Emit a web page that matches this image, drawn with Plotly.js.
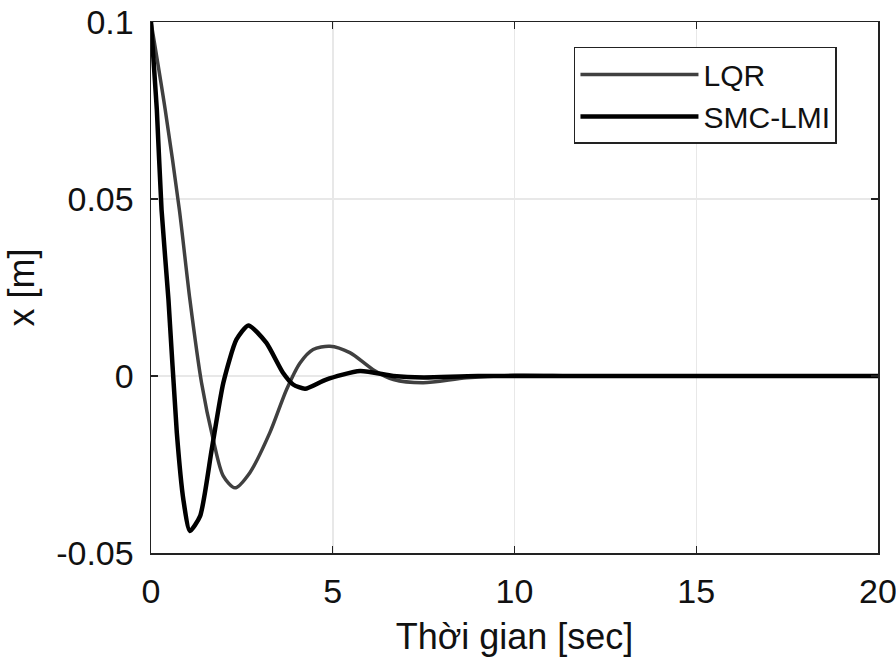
<!DOCTYPE html>
<html>
<head>
<meta charset="utf-8">
<script src="https://cdn.plot.ly/plotly-3.0.1.min.js"></script>
<style>html,body{margin:0;padding:0;background:#fff}#chart{width:896px;height:662px}</style>
</head>
<body>
<div id="chart"></div>
<script>
// LQR response
const lqrTime = [0, 0.39, 0.78, 1.07, 1.39, 1.71, 1.99, 2.31, 2.72, 3.27, 3.73, 4.1, 4.46, 4.92, 5.47, 6.11, 6.67, 7.49, 8.68, 10, 11.5, 13, 20];
const lqrX = [0.1, 0.0753, 0.047, 0.0216, -0.0019, -0.0179, -0.0283, -0.0316, -0.0273, -0.016, -0.0038, 0.0037, 0.0075, 0.0084, 0.0066, 0.0018, -0.001, -0.0019, -0.0005, 0.0002, 0.0001, 0, 0];
// SMC-LMI response
const smcTime = [0, 0.16, 0.29, 0.48, 0.71, 0.89, 1.07, 1.35, 1.67, 1.99, 2.35, 2.68, 3.17, 3.63, 3.91, 4.24, 4.82, 5.75, 6.67, 7.5, 9, 20];
const smcX = [0.1, 0.0753, 0.047, 0.0216, -0.016, -0.0349, -0.0438, -0.0396, -0.0208, -0.0019, 0.0103, 0.0143, 0.0094, 0.0009, -0.0024, -0.0036, -0.001, 0.0014, 0, -0.0004, 0, 0];
const seriesNames = ["LQR", "SMC-LMI"];
const xTicks = [0, 5, 10, 15, 20];
const yTicks = [-0.05, 0, 0.05, 0.1];
const yTickLabels = ["-0.05", "0", "0.05", "0.1"];

const font = "Liberation Sans, Arial, Helvetica, sans-serif";
const traces = [
  {x: lqrTime, y: lqrX, name: seriesNames[0], mode: "lines",
   line: {color: "#404040", width: 3.5, shape: "spline", smoothing: 0.8}},
  {x: smcTime, y: smcX, name: seriesNames[1], mode: "lines",
   line: {color: "#000000", width: 4.5, shape: "spline", smoothing: 0.6}}
];
const axisCommon = {
  showline: true, linecolor: "#222", linewidth: 1.5, mirror: "ticks",
  ticks: "inside", ticklen: 7, tickwidth: 1.2, tickcolor: "#222",
  showgrid: true, gridcolor: "#e8e8e8", gridwidth: 1.5, zeroline: false,
  ticklabeloverflow: "allow",
  tickfont: {family: font, size: 34, color: "#111"}
};
const layout = {
  width: 896, height: 662,
  margin: {l: 151, r: 18, t: 22, b: 109},
  paper_bgcolor: "#fff", plot_bgcolor: "#fff",
  showlegend: true,
  legend: {x: 0.5818, y: 0.953, xanchor: "left", yanchor: "top",
    bgcolor: "#fff", bordercolor: "#222", borderwidth: 1.5,
    font: {family: font, size: 30, color: "#111"}, itemwidth: 118, tracegroupgap: 4},
  xaxis: Object.assign({}, axisCommon, {range: [0, 20], tickvals: xTicks, ticklabelstandoff: 8,
    title: {text: "Thời gian [sec]", font: {family: font, size: 36, color: "#111"}, standoff: 14}}),
  yaxis: Object.assign({}, axisCommon, {range: [-0.05, 0.1], tickvals: yTicks, ticktext: yTickLabels,
    ticklabelstandoff: 9,
    title: {text: "x [m]", font: {family: font, size: 36, color: "#111"}, standoff: 10}})
};
Plotly.newPlot("chart", traces, layout, {staticPlot: true, displayModeBar: false});
</script>
</body>
</html>
